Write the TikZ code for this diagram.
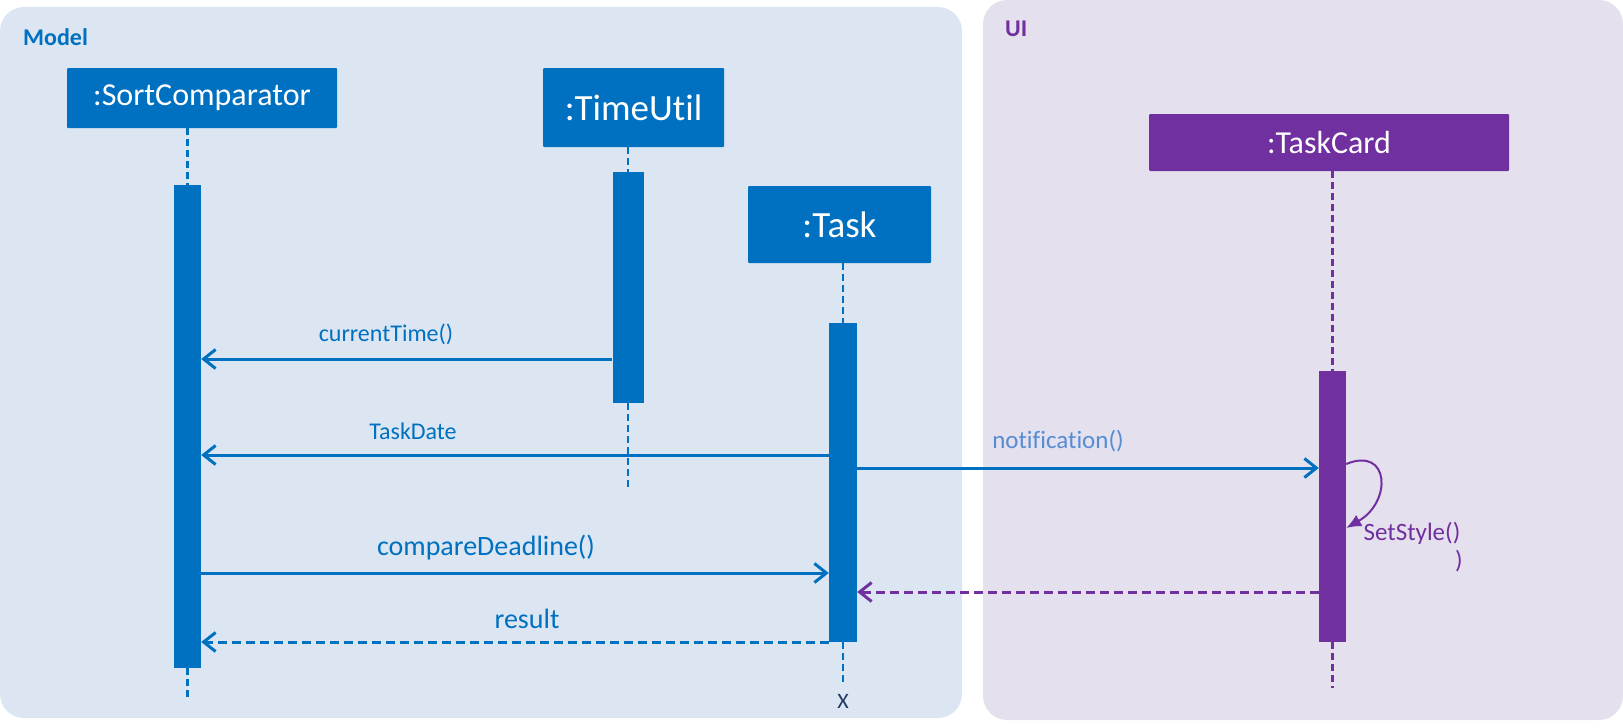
\documentclass[tikz,border=0pt]{standalone}
\usepackage{fontspec}
\setmainfont{Carlito}[Ligatures=NoCommon]
\usepackage{xcolor}
\usepackage{tikz}
\usetikzlibrary{positioning, arrows.meta, calc}

\definecolor{ublue}{RGB}{0,112,192}
\definecolor{upurple}{RGB}{112,48,160}
\definecolor{modelbg}{RGB}{220,230,242}
\definecolor{uibg}{RGB}{229,224,237}
\definecolor{notifblue}{RGB}{84,141,212}
\definecolor{xnavy}{RGB}{31,56,100}

\newcommand{\fs}[1]{\fontsize{#1}{#1}\selectfont}

\begin{document}
\begin{tikzpicture}[x=1pt, y=-1pt,
    obj/.style={rectangle, fill=#1, text=white, inner sep=0pt, rounded corners=1pt},
    bar/.style={rectangle, fill=#1, inner sep=0pt, minimum width=27pt},
    life/.style={draw=#1, line width=2.8pt, dash pattern=on 7pt off 4pt},
    msg/.style={draw=#1, line width=3pt, -{Straight Barb[length=12pt, width=19pt, line width=3pt]}},
    reply/.style={msg=#1, dash pattern=on 9pt off 5pt},
    lbl/.style={anchor=base, text=#1, font=\fs{24}}
  ]
  \useasboundingbox (0,0) rectangle (1623,728);
  % panels
  \fill[modelbg, rounded corners=24pt] (0,7) rectangle (962,718);
  \fill[uibg, rounded corners=24pt] (983,0) rectangle (1623,720);
  \node[anchor=base west, text=ublue, font=\fs{24}\bfseries, inner sep=0pt] (modeltxt) at (23,45) {Model};
  \node[anchor=base west, text=upurple, font=\fs{24}\bfseries, inner sep=0pt] (uitxt) at (1005,36) {UI};

  % objects
  \node[obj=ublue, minimum width=270pt, minimum height=60pt, font=\fs{32}] (sc) at (202,98) {:SortComparator};
  \node[obj=ublue, minimum width=181pt, minimum height=79pt, font=\fs{37}] (tu) at (633.5,107.5) {:TimeUtil};
  \node[obj=ublue, minimum width=183pt, minimum height=77pt, font=\fs{37}] (task) at (839.5,224.5) {:Task};
  \node[obj=upurple, minimum width=360pt, minimum height=57pt, font=\fs{32}] (tc) at (1329,142.5) {:TaskCard};

  % activations
  \node[bar=ublue, minimum height=483pt] (scact) at (187.5,426.5) {};
  \node[bar=ublue, minimum width=31pt, minimum height=231pt] (tuact) at (628,287.5) {};
  \node[bar=ublue, minimum width=28pt, minimum height=319pt] (taskact) at (843,482.5) {};
  \node[bar=upurple, minimum height=271pt] (tcact) at (1332.5,506.5) {};

  % lifeline ends
  \coordinate (scend) at (187.5,700);
  \coordinate (tuend) at (628,491);
  \coordinate (taskend) at (843,685);
  \coordinate (tcend) at (1332.5,688);

  \draw[life=ublue] (scact.north |- sc.south) -- (scact.north);
  \draw[life=ublue] (scact.south) -- (scend);
  \draw[life=ublue] (tuact.north |- tu.south) -- (tuact.north);
  \draw[life=ublue] (tuact.south) -- (tuend);
  \draw[life=ublue] (taskact.north |- task.south) -- (taskact.north);
  \draw[life=ublue] (taskact.south) -- (taskend);
  \draw[life=upurple] (tcact.north |- tc.south) -- (tcact.north);
  \draw[life=upurple] (tcact.south) -- (tcend);
  \node[text=xnavy, font=\fs{22}, inner sep=0pt] (destroy) at (843,701) {X};

  % message levels
  \coordinate (m1) at (0,359);
  \coordinate (m2) at (0,455);
  \coordinate (m3) at (0,468);
  \coordinate (m4) at (0,573);
  \coordinate (m5) at (0,592);
  \coordinate (m6) at (0,642);
  \coordinate (s1) at (0,464);
  \coordinate (s2) at (0,528);

  \draw[msg=ublue] (tuact.west |- m1) -- (scact.east |- m1);
  \draw[msg=ublue] (taskact.west |- m2) -- (scact.east |- m2);
  \draw[msg=ublue] (taskact.east |- m3) -- (tcact.west |- m3);
  \draw[upurple, line width=2pt, -{Latex[length=15pt, width=13pt]}]
    (tcact.east |- s1) .. controls (1390,446) and (1392,502) .. (tcact.east |- s2);
  \draw[msg=ublue] (scact.east |- m4) -- (taskact.west |- m4);
  \draw[reply=upurple] (tcact.west |- m5) -- (taskact.east |- m5);
  \draw[reply=ublue] (taskact.west |- m6) -- (scact.east |- m6);

  % labels
  \node[lbl=ublue] (l1) at (386,341) {currentTime()};
  \node[lbl=ublue] (l2) at (413,439) {TaskDate};
  \node[lbl=notifblue, font=\fs{25}] (l3) at (1058,448) {notification()};
  \node[lbl=upurple, font=\fs{25}] (l4) at (1412,540) {SetStyle()};
  \node[lbl=upurple, font=\fs{25}] (l5) at (1459,568) {)};
  \node[lbl=ublue, font=\fs{28}] (l6) at (486,555) {compareDeadline()};
  \node[lbl=ublue, font=\fs{28}] (l7) at (527,628) {result};
\end{tikzpicture}
\end{document}
